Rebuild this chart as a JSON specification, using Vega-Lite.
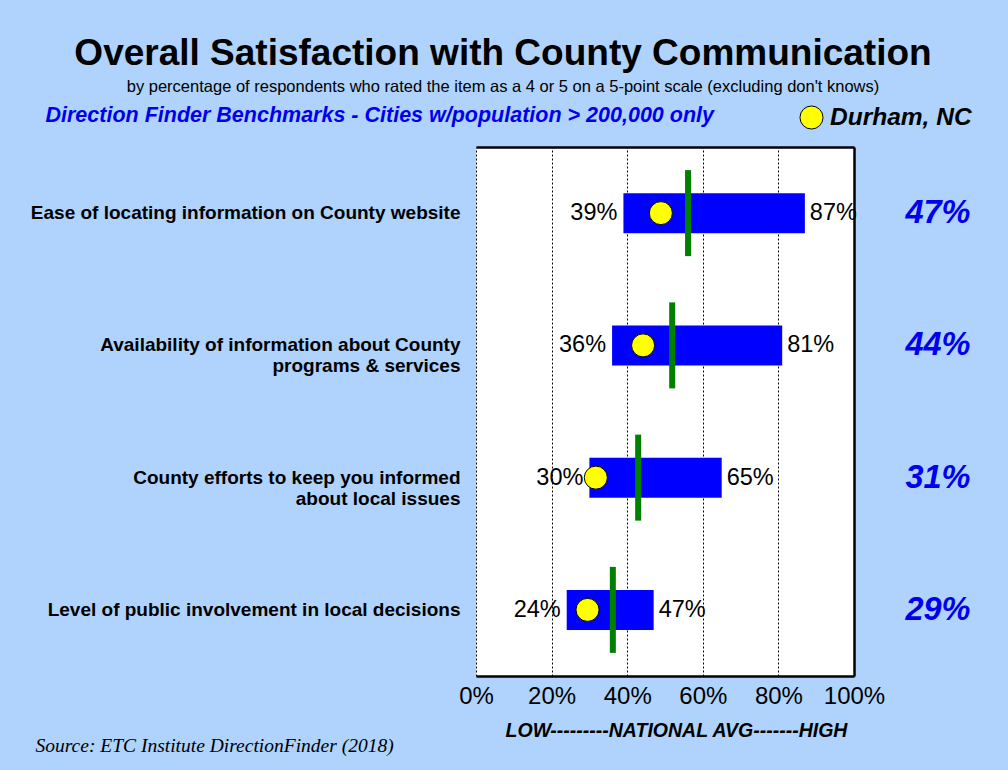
{
  "$schema": "https://vega.github.io/schema/vega-lite/v6.json",
  "width": 378,
  "height": 529,
  "autosize": "none",
  "padding": {"left": 476, "top": 147, "right": 154, "bottom": 94},
  "background": "#afd3fc",
  "config": {
    "view": {"fill": "white", "stroke": null},
    "font": "Liberation Sans"
  },
  "title": {
    "text": "Overall Satisfaction with County Communication",
    "subtitle": "by percentage of respondents who rated the item as a 4 or 5 on a 5-point scale (excluding don't knows)",
    "anchor": "middle",
    "frame": "group",
    "dx": -162,
    "font": "Liberation Sans",
    "fontSize": 37,
    "fontWeight": "bold",
    "color": "black",
    "subtitleFont": "Liberation Sans",
    "subtitleFontSize": 16.5,
    "subtitleColor": "black",
    "subtitlePadding": 6,
    "offset": 8
  },
  "data": {
    "values": [
      {"item": "Ease of locating information on County website", "low": 0.39, "high": 0.87, "avg": 0.561, "durham": 0.47, "dot": 0.489},
      {"item": "Availability of information about County|programs & services", "low": 0.36, "high": 0.81, "avg": 0.519, "durham": 0.44, "dot": 0.442},
      {"item": "County efforts to keep you informed|about local issues", "low": 0.30, "high": 0.65, "avg": 0.429, "durham": 0.31, "dot": 0.317},
      {"item": "Level of public involvement in local decisions", "low": 0.24, "high": 0.47, "avg": 0.362, "durham": 0.29, "dot": 0.295}
    ]
  },
  "resolve": {"axis": {"x": "independent", "y": "independent"}},
  "layer": [
    {
      "mark": {"type": "bar", "color": "#0000ff", "size": 40},
      "encoding": {
        "y": {
          "field": "item", "type": "nominal", "sort": null,
          "axis": {
            "orient": "left",
            "title": "Source:  ETC Institute DirectionFinder (2018)",
            "titleAngle": 0, "titleX": -441, "titleY": 598,
            "titleAlign": "left", "titleBaseline": "middle",
            "titleFont": "Liberation Serif", "titleFontStyle": "italic",
            "titleFontWeight": "normal", "titleFontSize": 19.5, "titleColor": "black",
            "labelExpr": "split(datum.label, '|')",
            "labelFont": "Liberation Sans", "labelFontWeight": "bold",
            "labelFontSize": 19, "labelColor": "black", "labelPadding": 16,
            "labelLimit": 600, "labelLineHeight": 21,
            "ticks": false, "domain": false, "grid": false
          }
        },
        "x": {
          "field": "low", "type": "quantitative",
          "scale": {"domain": [0, 1], "nice": false},
          "axis": {
            "orient": "bottom", "format": ".0%",
            "values": [0, 0.2, 0.4, 0.6, 0.8, 1],
            "labelFont": "Liberation Sans", "labelFontSize": 24, "labelColor": "black",
            "labelPadding": 8, "labelFlush": false,
            "ticks": false, "domain": true, "domainColor": "black", "domainWidth": 2.5,
            "grid": true, "gridColor": "black", "gridDash": [2, 2], "gridWidth": 1, "gridOpacity": 1,
            "title": "LOW---------NATIONAL AVG-------HIGH",
            "titleFont": "Liberation Sans", "titleFontStyle": "italic",
            "titleFontWeight": "bold", "titleFontSize": 19.5, "titleColor": "black",
            "titleX": 200, "titleY": 54, "titleBaseline": "middle"
          }
        },
        "x2": {"field": "high"}
      }
    },
    {
      "mark": {"type": "tick", "color": "#008000", "thickness": 6, "size": 86, "opacity": 1},
      "encoding": {
        "y": {
          "field": "item", "type": "nominal", "sort": null,
          "axis": {
            "orient": "right", "labels": false, "ticks": false, "grid": false,
            "domain": true, "domainColor": "black", "domainWidth": 2.5, "title": null
          }
        },
        "x": {
          "field": "avg", "type": "quantitative",
          "scale": {"domain": [0, 1], "nice": false},
          "axis": {
            "orient": "top", "labels": false, "ticks": false, "grid": false,
            "domain": true, "domainColor": "black", "domainWidth": 2.5,
            "title": "Direction Finder Benchmarks - Cities w/population > 200,000 only",
            "titleX": -431, "titleY": -32, "titleAlign": "left", "titleBaseline": "middle",
            "titleColor": "#0000ee", "titleFont": "Liberation Sans", "titleFontSize": 21.5,
            "titleFontStyle": "italic", "titleFontWeight": "bold"
          }
        }
      }
    },
    {
      "mark": {"type": "point", "shape": "circle", "filled": true, "size": 531, "stroke": "black", "strokeWidth": 1, "opacity": 1},
      "encoding": {
        "y": {"field": "item", "type": "nominal", "sort": null, "axis": null},
        "x": {"field": "dot", "type": "quantitative", "scale": {"domain": [0, 1], "nice": false}, "axis": null},
        "color": {
          "datum": "Durham, NC",
          "scale": {"range": ["#ffff00"]},
          "legend": {
            "orient": "none", "legendX": 323, "legendY": -42, "title": null, "padding": 0,
            "symbolType": "circle", "symbolSize": 531, "symbolStrokeColor": "black", "symbolStrokeWidth": 1,
            "symbolOpacity": 1,
            "labelFont": "Liberation Sans", "labelFontSize": 24.5, "labelFontWeight": "bold",
            "labelFontStyle": "italic", "labelColor": "black", "labelOffset": 6, "labelLimit": 300
          }
        }
      }
    },
    {
      "mark": {"type": "text", "align": "right", "baseline": "middle", "dx": -6, "fontSize": 23.5, "color": "black"},
      "encoding": {
        "y": {"field": "item", "type": "nominal", "sort": null, "axis": null},
        "x": {"field": "low", "type": "quantitative", "scale": {"domain": [0, 1], "nice": false}, "axis": null},
        "text": {"field": "low", "type": "quantitative", "format": ".0%"}
      }
    },
    {
      "mark": {"type": "text", "align": "left", "baseline": "middle", "dx": 5, "fontSize": 23.5, "color": "black"},
      "encoding": {
        "y": {"field": "item", "type": "nominal", "sort": null, "axis": null},
        "x": {"field": "high", "type": "quantitative", "scale": {"domain": [0, 1], "nice": false}, "axis": null},
        "text": {"field": "high", "type": "quantitative", "format": ".0%"}
      }
    },
    {
      "mark": {"type": "text", "align": "center", "baseline": "middle", "fontSize": 32.5, "fontWeight": "bold", "fontStyle": "italic", "color": "#0000ee"},
      "encoding": {
        "y": {"field": "item", "type": "nominal", "sort": null, "axis": null},
        "x": {"datum": 1.222, "type": "quantitative", "scale": {"domain": [0, 1], "nice": false}, "axis": null},
        "text": {"field": "durham", "type": "quantitative", "format": ".0%"}
      }
    }
  ]
}
